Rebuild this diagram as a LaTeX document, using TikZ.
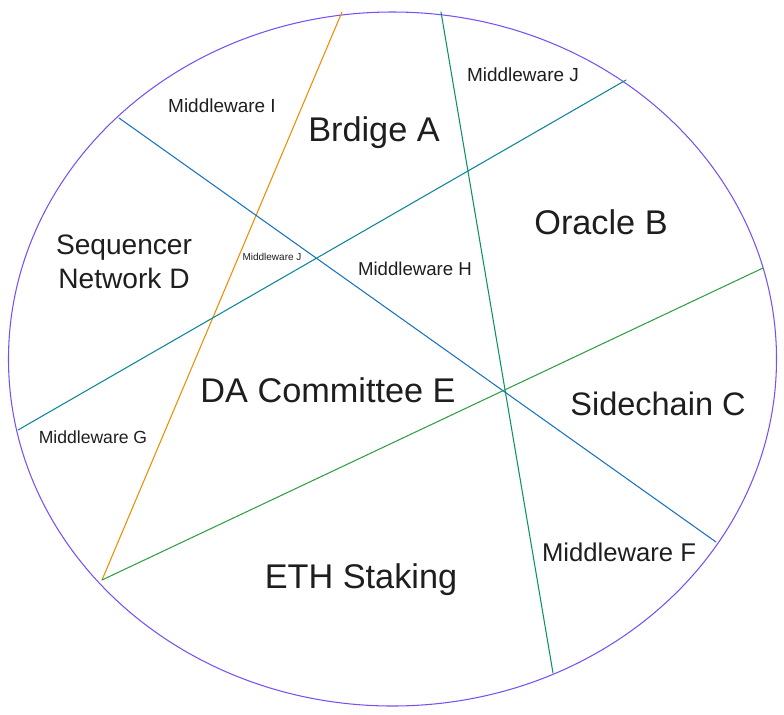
\documentclass[tikz,border=0pt]{standalone}
\usepackage{fontspec}
\setmainfont{Liberation Sans}
\usetikzlibrary{positioning, calc}
\definecolor{exviolet}{HTML}{7950F2}
\definecolor{exorange}{HTML}{F08C00}
\definecolor{exteal}{HTML}{099268}
\definecolor{excyan}{HTML}{0C8599}
\definecolor{exblue}{HTML}{1971C2}
\definecolor{exgreen}{HTML}{2F9E44}
\definecolor{exink}{HTML}{1E1E1E}

\begin{document}
\begin{tikzpicture}[
    x=1cm, y=1cm,
    cut/.style={line width=0.6pt, line cap=round, color=#1},
    cut/.default={exblue},
    rim/.style={draw=exviolet, line width=0.6pt},
    chain/.style={font=\fontsize{19.5}{23}\selectfont, text=exink, align=center, inner sep=0pt},
    ware/.style={font=\fontsize{10.8}{13}\selectfont, text=exink, inner sep=0pt},
]

% canvas: 784 x 714 px at 50 px per cm
\useasboundingbox (0,0) rectangle (15.68,-14.28);

% ===================================================================
% OUTER ELLIPSE
% ===================================================================
\coordinate (centre) at (7.85,-7.18);
\draw[rim] (centre) ellipse [x radius=7.68, y radius=6.94];

% ===================================================================
% CUTTING LINES
% ===================================================================
\coordinate (orange-top) at (6.84,-0.24);
\coordinate (corner-sw) at (2.04,-11.60);
\coordinate (teal-top)   at (8.82,-0.24);
\coordinate (teal-bot)   at (11.06,-13.46);
\coordinate (blue-nw)    at (2.38,-2.36);
\coordinate (blue-se)    at (14.32,-10.84);
\coordinate (cyan-w)     at (0.36,-8.60);
\coordinate (cyan-ne)    at (12.52,-1.60);
\coordinate (green-e)    at (15.26,-5.36);

\draw[cut=exorange] (orange-top) -- (corner-sw);
\draw[cut=exteal]   (teal-top) -- (teal-bot);
\draw[cut=exblue]   (blue-nw) -- (blue-se);
\draw[cut=excyan]   (cyan-w) -- (cyan-ne);
\draw[cut=exgreen]  (corner-sw) -- (green-e);

% ===================================================================
% REGION LABELS
% ===================================================================
\node[chain] (bridge)    at (7.48,-2.66)  {Brdige A};
\node[chain] (oracle)    at (12.02,-4.44) {Oracle B};
\node[chain, font=\fontsize{18.5}{22}\selectfont] (sidechain) at (13.16,-8.08) {Sidechain C};
\node[chain, font=\fontsize{16}{19.5}\selectfont] (sequencer) at (2.48,-5.24) {Sequencer\\Network D};
\node[chain] (committee) at (6.56,-7.80)  {DA Committee E};
\node[chain] (staking)   at (7.22,-11.60) {ETH Staking};

% Middleware labels
\node[ware, font=\fontsize{14.6}{17}\selectfont] (ware-f) at (12.38,-11.04) {Middleware F};
\node[ware, font=\fontsize{10}{12}\selectfont]   (ware-g) at (1.86,-8.74)   {Middleware G};
\node[ware, font=\fontsize{10.6}{12}\selectfont] (ware-h) at (8.30,-5.38)   {Middleware H};
\node[ware] (ware-i) at (4.44,-2.12) {Middleware I};
\node[ware] (ware-j) at (10.46,-1.50) {Middleware J};
\node[ware, font=\fontsize{5.7}{7}\selectfont]   (ware-j-small) at (5.44,-5.14) {Middleware J};

\end{tikzpicture}
\end{document}
